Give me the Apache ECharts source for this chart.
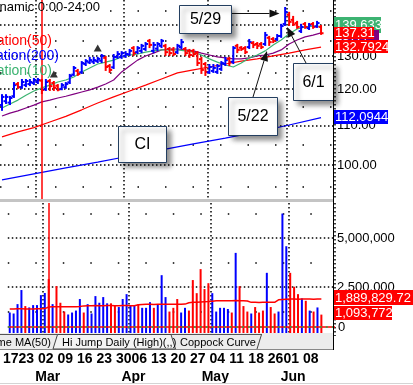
<!DOCTYPE html>
<html><head><meta charset="utf-8">
<script src="https://cdn.jsdelivr.net/npm/echarts@6.0.0/dist/echarts.min.js"></script>
<style>html,body{margin:0;padding:0;background:#fff;}#c{width:413px;height:385px;}</style>
</head><body><div id="c"></div>
<script>
// ---------- data ----------
const dates = ['2015-02-17','2015-02-18','2015-02-19','2015-02-20','2015-02-23','2015-02-24','2015-02-25','2015-02-26','2015-02-27',
'2015-03-02','2015-03-03','2015-03-04','2015-03-05','2015-03-06','2015-03-09','2015-03-10','2015-03-11','2015-03-12','2015-03-13','2015-03-16','2015-03-17','2015-03-18','2015-03-19','2015-03-20','2015-03-23','2015-03-24','2015-03-25','2015-03-26','2015-03-27','2015-03-30','2015-03-31',
'2015-04-01','2015-04-02','2015-04-06','2015-04-07','2015-04-08','2015-04-09','2015-04-10','2015-04-13','2015-04-14','2015-04-15','2015-04-16','2015-04-17','2015-04-20','2015-04-21','2015-04-22','2015-04-23','2015-04-24','2015-04-27','2015-04-28','2015-04-29','2015-04-30',
'2015-05-01','2015-05-04','2015-05-05','2015-05-06','2015-05-07','2015-05-08','2015-05-11','2015-05-12','2015-05-13','2015-05-14','2015-05-15','2015-05-18','2015-05-19','2015-05-20','2015-05-21','2015-05-22','2015-05-26','2015-05-27','2015-05-28','2015-05-29',
'2015-06-01','2015-06-02','2015-06-03','2015-06-04','2015-06-05','2015-06-08','2015-06-09','2015-06-10','2015-06-11'];

const opens = [115.5,116.6,116.2,118.0,121.5,120.6,121.2,121.5,121.8,122.1,
122.5,120.0,122.4,121.8,121.0,120.1,120.6,122.0,124.3,125.4,
125.0,127.5,128.0,128.2,128.4,128.5,129.4,126.9,126.5,129.7,
129.7,130.0,130.5,132.5,131.2,131.6,132.2,134.8,131.6,132.3,
133.2,133.2,132.2,132.0,131.2,132.8,132.2,131.6,131.6,131.0,
129.0,127.5,125.0,125.4,125.1,126.0,127.5,129.1,128.2,133.2,
132.6,132.5,132.8,134.1,133.8,133.8,133.8,135.8,135.4,135.4,
136.4,140.4,143.5,141.8,140.7,138.0,140.4,139.0,140.4,139.6,
139.4];
const highs = [118.3,118.3,117.8,121.8,121.8,122.7,122.7,122.7,123.0,123.0,
122.7,122.7,122.7,122.1,121.2,121.5,121.8,124.2,126.6,125.7,
128.1,128.7,129.4,129.4,129.4,130.3,129.7,127.2,130.3,131.2,
131.2,131.2,131.9,132.8,132.8,133.5,134.1,135.1,134.1,134.1,
135.1,133.5,132.5,132.5,133.5,135.1,132.5,131.9,131.9,131.2,
129.4,127.8,127.2,127.2,127.2,128.1,129.4,129.4,132.8,133.5,
132.8,132.8,135.1,134.4,134.1,134.1,137.4,136.1,135.7,136.7,
140.1,145.9,144.2,142.8,141.1,140.1,140.7,140.4,140.7,141.1,
139.7];
const lows = [114.2,116.1,115.8,117.8,120.4,120.4,120.9,121.2,121.5,121.8,
118.9,119.8,119.8,119.8,119.7,120.0,120.4,121.8,124.2,124.2,
124.8,127.2,127.8,127.8,128.1,128.1,125.7,125.1,126.3,129.4,
129.4,129.7,130.3,130.3,130.9,131.2,131.9,132.8,131.2,131.9,
132.8,130.3,130.3,130.3,130.9,132.5,130.3,129.7,130.0,127.2,
124.8,124.2,124.8,125.1,124.8,125.7,127.2,127.2,127.8,131.2,
131.9,130.9,132.5,132.8,132.5,132.5,133.5,133.5,134.4,135.1,
136.1,140.1,140.1,140.1,139.1,137.7,139.1,138.7,139.1,139.4,
137.1];
const closes = [117.8,117.8,117.5,121.2,120.6,122.1,122.4,122.1,122.7,122.7,
119.8,122.1,120.9,120.4,119.9,121.2,121.5,123.9,126.3,124.5,
127.8,128.4,128.7,128.7,129.1,130.0,126.6,125.7,129.7,130.6,
130.9,130.6,131.6,130.9,132.5,133.2,133.8,133.5,133.5,133.8,
134.8,131.2,130.9,130.6,133.2,134.4,130.9,130.3,130.6,127.8,
125.7,125.1,126.6,126.3,126.9,127.8,128.7,128.1,132.5,131.9,
132.2,131.2,134.4,133.5,133.2,132.8,136.7,134.4,134.8,136.4,
139.7,144.5,141.1,140.2,139.4,139.4,139.4,140.1,139.4,140.7,
137.31];

const volumes = [1200000,1150000,1630000,2350000,1530000,1460000,1580000,1580000,2090000,2200000,
2910000,1630000,2550000,1700000,1250000,1100000,1200000,1300000,1890000,1200000,
1630000,1150000,2040000,1700000,1990000,1670000,1670000,1550000,1480000,1890000,
2140000,1550000,1550000,1620000,1440000,1440000,1730000,1440000,1630000,3110000,
1990000,1250000,1440000,1890000,1200000,1440000,1300000,2860000,2190000,3420000,
2400000,2700000,2190000,1250000,1440000,1440000,1380000,1200000,4250000,2550000,
1530000,1250000,1150000,1480000,1200000,1300000,3230000,1480000,1150000,1250000,
6260000,4590000,3230000,2520000,2140000,1920000,1800000,1300000,1250000,1460000,
1093772];
const volumeMA = [1380000,1380000,1390000,1390000,1385000,1380000,1385000,1390000,1390000,1400000,
1480000,1490000,1490000,1500000,1490000,1490000,1500000,1500000,1510000,
1540000,1550000,1550000,1555000,1550000,1550000,1560000,1555000,1550000,1550000,1555000,1560000,1550000,1550000,1600000,
1610000,1620000,1620000,1615000,1620000,1620000,1625000,1620000,1620000,1625000,1620000,1630000,1700000,
1720000,1730000,1740000,1750000,1760000,1780000,
1800000,1800000,1805000,1800000,1800000,1810000,1800000,1800000,1790000,1720000,
1720000,1715000,1720000,1720000,1725000,1720000,1850000,
1870000,1880000,1890000,1890000,1885000,1890000,1895000,1890000,1885000,1890000,1889829.72];

// moving averages read at sampled days: [day index, value]
const ma10 = [[0,114.7],[2,115.8],[4,116.9],[6,118.3],[8,119.5],[10,120.4],[12,121.2],[14,122.1],[16,122.7],[18,123.6],
[20,125.1],[22,126.3],[24,127.5],[26,128.1],[28,128.7],[30,129.7],[32,130.3],[34,130.6],[36,131.2],[38,131.6],
[40,131.9],[42,131.9],[44,131.9],[46,131.6],[48,131.2],[50,130.3],[52,129.1],[54,128.1],[56,127.2],[58,126.6],
[60,127.8],[62,129.4],[64,130.3],[66,131.6],[68,133.5],[70,135.1],[72,137.1],[74,138.7],[76,139.4],[78,139.7],[80,139.633]];
const ma20 = [[0,112.5],[2,113.3],[4,113.9],[6,114.7],[8,115.5],[10,116.4],[12,116.9],[14,117.5],[16,118.0],[18,118.6],
[20,119.2],[22,119.8],[24,120.6],[26,121.5],[28,122.7],[30,125.1],[32,126.9],[34,128.7],[36,130.0],[38,130.9],
[40,131.9],[42,132.2],[44,132.2],[46,131.9],[48,131.6],[50,130.9],[52,130.3],[54,129.7],[56,129.4],[58,129.1],
[60,129.1],[62,129.4],[64,130.0],[66,130.3],[68,130.9],[70,131.9],[72,133.8],[74,135.1],[76,136.1],[78,136.7],[80,137.4]];
const ma50 = [[0,107.0],[4,108.3],[8,109.4],[12,110.9],[16,112.4],[20,114.2],[24,116.1],[28,117.8],[32,119.5],[36,121.2],
[40,123.0],[44,124.8],[48,125.7],[52,126.6],[56,127.5],[60,128.4],[64,129.1],[68,130.0],[72,130.9],[76,131.9],[80,132.7924]];
const ma200 = [[0,96.5],[8,97.9],[16,99.3],[24,100.7],[32,102.2],[40,103.7],[48,105.2],[56,106.7],[64,108.3],[72,110.1],[80,112.0944]];

const priceTicks = [100,110,120,130,140];
const priceMinorTicks = [95,105,115,125,135,145];
const volumeTicks = [2500000,5000000];
const volumeMinorTicks = [1250000,3750000,6250000];
const hiJumpMarks = [[13,124.5],[24,132.5]];
const cursorIndex = 10;
const volumeRefLevel = 460000;
const monthNames = ['Jan','Feb','Mar','Apr','May','Jun','Jul','Aug','Sep','Oct','Nov','Dec'];

// ---------- chart ----------
const F = "'Liberation Sans', Arial, Helvetica, sans-serif";
const axisDates = dates.concat(['','','']);
function dayOf(s){ return new Date(s + 'T00:00:00Z'); }
function isWeekStart(i){
  if (i >= dates.length) return false;
  if (i === 0) return true;
  const d = dayOf(dates[i]), p = dayOf(dates[i-1]);
  return d.getUTCDay() < p.getUTCDay() || (d - p) > 3*86400000;
}
function isMonthStart(i){
  if (i <= 0 || i >= dates.length) return false;
  return dates[i].slice(5,7) !== dates[i-1].slice(5,7);
}
const isUp = closes.map((c,i) => c >= opens[i]);
const UP = '#0000ff', DOWN = '#ff0000';

const priceData = dates.map((d,i) => [i, opens[i], highs[i], lows[i], closes[i]]);
const volData = volumes.map((v,i) => ({value: v, itemStyle: {color: isUp[i] ? UP : DOWN}}));

const DOT = {color:'#000', width:1.5, type:[1.5,2.5]};
const SPARSE = {color:'#000', width:1.5, type:[1.5,26]};

const chart = echarts.init(document.getElementById('c'), null, {renderer:'canvas'});

function valueBox(text, x, y, w, h, fill, z){
  return [
    {type:'rect', z:z, shape:{x:x, y:y, width:w, height:h}, style:{fill:fill}},
    {type:'text', z:z+1, style:{text:text, x:x+1, y:y+h/2+0.5, fill:'#fff', font:'13px '+F,
      textAlign:'left', textVerticalAlign:'middle', align:'left', verticalAlign:'middle'}}
  ];
}
function callout(text, x, y, w, h){
  return [
    {type:'rect', z:110, shape:{x:x, y:y, width:w, height:h},
     style:{fill:'#fff', stroke:'#243f60', lineWidth:1, shadowBlur:5, shadowOffsetX:4, shadowOffsetY:4, shadowColor:'rgba(0,0,0,0.45)'}},
    {type:'text', z:111, style:{text:text, x:x+w/2, y:y+h/2+0.5, fill:'#000', font:'16px '+F,
      textAlign:'center', textVerticalAlign:'middle', align:'center', verticalAlign:'middle'}}
  ];
}
function arrow(x1,y1,tx,ty){
  const dx = tx-x1, dy = ty-y1, L = Math.hypot(dx,dy), ux = dx/L, uy = dy/L;
  const bx = tx-ux*10, by = ty-uy*10, px = -uy*4, py = ux*4;
  return [
    {type:'line', z:112, shape:{x1:x1,y1:y1,x2:bx,y2:by}, style:{stroke:'#111', lineWidth:1}},
    {type:'polygon', z:112, shape:{points:[[tx,ty],[bx+px,by+py],[bx-px,by-py]]}, style:{fill:'#111'}}
  ];
}
function label(text, x, y, color, size, align, weight){
  return {type:'text', z:100, style:{text:text, x:x, y:y, fill:color, font:(weight||'normal')+' '+size+'px '+F,
    textAlign:align, textVerticalAlign:'middle', align:align, verticalAlign:'middle'}};
}
const fmtVol = v => v.toLocaleString('en-US');
const last = a => a[a.length-1];

const elements = [
  {type:'rect', z:90, shape:{x:0, y:199, width:333, height:3}, style:{fill:'#c4c4c4'}},
  // tab bar
  {type:'rect', z:95, shape:{x:0, y:333, width:333, height:16}, style:{fill:'#ececec'}},
  {type:'line', z:96, shape:{x1:0, y1:334.5, x2:262, y2:334.5}, style:{stroke:'#555', lineWidth:1}},
  {type:'line', z:96, shape:{x1:0, y1:349.5, x2:334, y2:349.5}, style:{stroke:'#888', lineWidth:1}},
  {type:'polygon', z:96, shape:{points:[[53,349],[57.5,334.5],[171,334.5],[175.5,349]]}, style:{fill:'#f3f3f3', stroke:'#444', lineWidth:1}},
  {type:'line', z:96, shape:{x1:257, y1:349, x2:261.5, y2:334.5}, style:{stroke:'#444', lineWidth:1}},
  label('Volume MA(50)', 51, 342.5, '#000', 11, 'right'),
  label('Hi Jump Daily (High)(,,)', 62, 342.5, '#000', 11, 'left'),
  label('Coppock Curve', 180, 342.5, '#000', 11, 'left'),
  {type:'line', z:130, shape:{x1:333.5, y1:0, x2:333.5, y2:350}, style:{stroke:'#000', lineWidth:1}},
  {type:'line', z:96, shape:{x1:0, y1:383.5, x2:413, y2:383.5}, style:{stroke:'#d4d4d4', lineWidth:1}},
  // title & legend
  label('CI Dynamic 0:00-24:00', 100, 7.5, '#000', 13, 'right'),
  label('Moving Average Variation(50)', 52, 41.5, '#ff0000', 14, 'right'),
  label('Moving Average Variation(200)', 59, 56, '#0000ff', 14, 'right'),
  label('Moving Average Variation(10)', 52, 71, '#3cb371', 14, 'right')
].concat(
  callout('5/29', 179.5, 5.5, 52, 28), arrow(232, 13.5, 279.5, 13.5),
  callout('5/22', 228.5, 97.5, 49, 38), arrow(253, 97, 267, 51),
  callout('6/1', 293.5, 63.5, 40, 37), arrow(306, 63, 287, 27),
  callout('CI', 118.5, 126.5, 48, 36),
  valueBox(String(last(ma10)[1]), 334, 17, 47, 16, '#3cb371', 120),
  valueBox(String(last(ma20)[1]), 334, 30, 45, 11, '#800080', 122),
  valueBox(String(last(closes)), 334, 27, 40, 12, '#ff0000', 124),
  valueBox(String(last(ma50)[1]), 334, 40, 54, 13, '#ff0000', 126),
  valueBox(String(last(ma200)[1]), 334, 110, 54, 14, '#0000ff', 120),
  valueBox(fmtVol(last(volumeMA)), 334, 290, 79, 15, '#ff0000', 120),
  valueBox(fmtVol(last(volumes)), 334, 306, 58, 14, '#ff0000', 122)
);

const option = {
  animation:false,
  backgroundColor:'#fff',
  grid:[{left:-1, top:0, width:336, height:200},{left:-1, top:203, width:336, height:133}],
  xAxis:[
    {type:'category', gridIndex:0, data:axisDates, boundaryGap:true,
     axisLine:{show:false}, axisTick:{show:false}, axisLabel:{show:false},
     splitLine:{show:true, interval:(i)=>isMonthStart(i), lineStyle:DOT}},
    {type:'category', gridIndex:1, data:axisDates, position:'bottom', boundaryGap:true,
     axisLine:{show:false}, axisTick:{show:false},
     axisLabel:{show:true, interval:(i)=>isWeekStart(i), formatter:v=>v? v.slice(8):'',
       fontSize:14, fontWeight:'bold', color:'#000', fontFamily:F, margin:16, padding:[0,0,0,2]},
     splitLine:{show:true, interval:(i)=>isMonthStart(i), lineStyle:DOT}},
    {type:'category', gridIndex:1, data:axisDates, position:'bottom', boundaryGap:true,
     axisLine:{show:false}, axisTick:{show:false}, splitLine:{show:false},
     axisLabel:{show:true, interval:(i)=>isMonthStart(i), formatter:v=>v? monthNames[+v.slice(5,7)-1]:'',
       align:'center', padding:[0,0,0,6], fontSize:14, fontWeight:'bold', color:'#000', fontFamily:F, margin:34}}
  ],
  yAxis:[
    {type:'log', logBase:10, gridIndex:0, position:'right', min:91.93, max:148.73,
     axisLine:{show:false}, axisTick:{show:false}, axisLabel:{show:false}, splitLine:{show:false}},
    {type:'value', gridIndex:1, position:'right', min:0, max:6800000, interval:2500000,
     axisLine:{show:false}, axisTick:{show:false}, splitLine:{show:false},
     axisLabel:{show:true, margin:3, color:'#000', fontSize:13, fontFamily:F,
       formatter:v => v === 0 ? '{z|0}' : '',
       rich:{z:{fontSize:13, fontFamily:F, color:'#000', padding:[0,0,18,0]}}}}
  ],
  series:[
    {type:'line', name:'MA200', xAxisIndex:0, yAxisIndex:0, data:ma200, symbol:'none', z:3,
     lineStyle:{color:'#0000ff', width:1.2},
     markLine:{silent:true, symbol:'none', z:1, animation:false,
       label:{show:true, position:'end', distance:2, color:'#000', fontSize:13, fontFamily:F, formatter:p=>p.value.toFixed(2)},
       lineStyle:DOT,
       data: priceTicks.map(v=>({yAxis:v})).concat(priceMinorTicks.map(v=>({yAxis:v, lineStyle:SPARSE, label:{show:false}})))}},
    {type:'line', name:'MA50', xAxisIndex:0, yAxisIndex:0, data:ma50, symbol:'none', z:3, lineStyle:{color:'#ff0000', width:1.2}},
    {type:'line', name:'MA20', xAxisIndex:0, yAxisIndex:0, data:ma20, symbol:'none', z:3, lineStyle:{color:'#800080', width:1.2}},
    {type:'line', name:'MA10', xAxisIndex:0, yAxisIndex:0, data:ma10, symbol:'none', z:3, lineStyle:{color:'#3cb371', width:1.2}},
    {type:'custom', name:'Price', xAxisIndex:0, yAxisIndex:0, z:4, clip:true,
     encode:{x:0, y:[1,2,3,4]}, data:priceData,
     renderItem:function(params, api){
       const i = api.value(0), o = api.value(1), h = api.value(2), l = api.value(3), c = api.value(4);
       const ph = api.coord([i,h]), pl = api.coord([i,l]), po = api.coord([i,o]), pc = api.coord([i,c]);
       const col = c >= o ? UP : DOWN, x = ph[0];
       return {type:'group', children:[
         {type:'line', shape:{x1:x, y1:ph[1]-1, x2:x, y2:pl[1]+1}, style:{stroke:col, lineWidth:2}},
         {type:'line', shape:{x1:x-2.5, y1:po[1], x2:x, y2:po[1]}, style:{stroke:col, lineWidth:2}},
         {type:'line', shape:{x1:x, y1:pc[1], x2:x+2.5, y2:pc[1]}, style:{stroke:col, lineWidth:2}}
       ]};
     }},
    {type:'scatter', name:'Hi Jump', xAxisIndex:0, yAxisIndex:0, data:hiJumpMarks, symbol:'triangle', symbolSize:[8,7], z:5,
     itemStyle:{color:'#000'},
     markLine:{silent:true, symbol:'none', label:{show:false}, lineStyle:{color:'#ff0000', width:1.5, type:'solid'},
       data:[{xAxis:cursorIndex}]}},
    {type:'line', name:'Volume MA(50)', xAxisIndex:1, yAxisIndex:1, data:volumeMA, symbol:'none', z:4,
     lineStyle:{color:'#ff0000', width:1.5},
     markLine:{silent:true, symbol:'none', z:1,
       label:{show:true, position:'end', distance:2, color:'#000', fontSize:13, fontFamily:F, formatter:p=>fmtVol(p.value)},
       lineStyle:DOT,
       data: volumeTicks.map(v=>({yAxis:v}))
         .concat(volumeMinorTicks.map(v=>({yAxis:v, lineStyle:SPARSE, label:{show:false}})))}},
    {type:'bar', name:'Volume', xAxisIndex:1, yAxisIndex:1, data:volData, barWidth:2, z:3,
     markLine:{silent:true, symbol:'none', label:{show:false},
       data:[
         {yAxis:volumeRefLevel, lineStyle:{color:'#ff0000', width:1.5, type:'solid'}},
         {yAxis:volumeRefLevel, lineStyle:{color:'#22aa44', width:1.5, type:[2,4]}},
         {xAxis:cursorIndex, lineStyle:{color:'#ff0000', width:1.5, type:'solid'}}
       ]}}
  ],
  graphic:{elements:elements}
};
chart.setOption(option);
</script></body></html>
